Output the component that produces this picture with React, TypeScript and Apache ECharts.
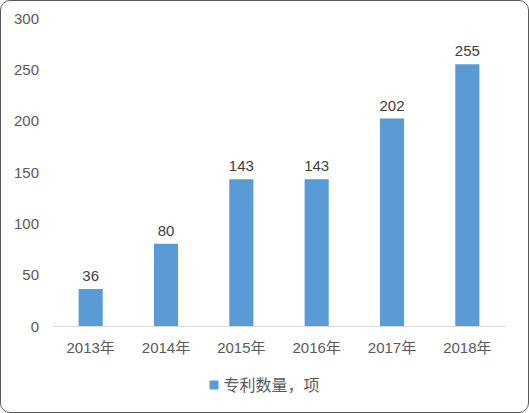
import { useEffect, useRef } from "react";
import * as echarts from "echarts";

// chart data
const years = ["2013年", "2014年", "2015年", "2016年", "2017年", "2018年"];
const patents = [36, 80, 143, 143, 202, 255];
const seriesName = "专利数量，项";

const FONT = "'Liberation Sans', 'Noto Sans CJK SC', sans-serif";

const App = () => {
  const chartRef = useRef<HTMLDivElement>(null);

  useEffect(() => {
    if (!chartRef.current) return;
    const chart = echarts.init(chartRef.current, null, { renderer: "svg" });

    chart.setOption({
      animation: false,
      textStyle: { fontFamily: FONT },
      grid: { left: 52, right: 23, top: 17, bottom: 86 },
      legend: {
        data: [seriesName],
        bottom: 14,
        left: "center",
        icon: "rect",
        itemWidth: 9,
        itemHeight: 9,
        itemGap: 4,
        textStyle: { color: "#595959", fontSize: 16, fontFamily: FONT },
      },
      xAxis: {
        type: "category",
        data: years,
        axisLine: { lineStyle: { color: "#d9d9d9", width: 1 } },
        axisTick: { show: false },
        axisLabel: { color: "#595959", fontSize: 15, margin: 14 },
      },
      yAxis: {
        type: "value",
        min: 0,
        max: 300,
        interval: 50,
        splitLine: { show: false },
        axisLine: { show: false },
        axisTick: { show: false },
        axisLabel: { color: "#595959", fontSize: 15, margin: 14 },
      },
      series: [
        {
          name: seriesName,
          type: "bar",
          data: patents,
          barWidth: "32%",
          itemStyle: { color: "#5b9bd5" },
          label: {
            show: true,
            position: "top",
            distance: 6,
            color: "#404040",
            fontSize: 15,
          },
        },
      ],
    });

    return () => chart.dispose();
  }, []);

  return (
    <div
      style={{
        position: "fixed",
        left: 0,
        top: 0,
        width: 529,
        height: 413,
        boxSizing: "border-box",
        border: "1px solid #595959",
        borderRadius: 10,
        background: "#fff",
        overflow: "hidden",
      }}
    >
      <div ref={chartRef} style={{ width: 527, height: 411 }} />
    </div>
  );
};

export default App;
